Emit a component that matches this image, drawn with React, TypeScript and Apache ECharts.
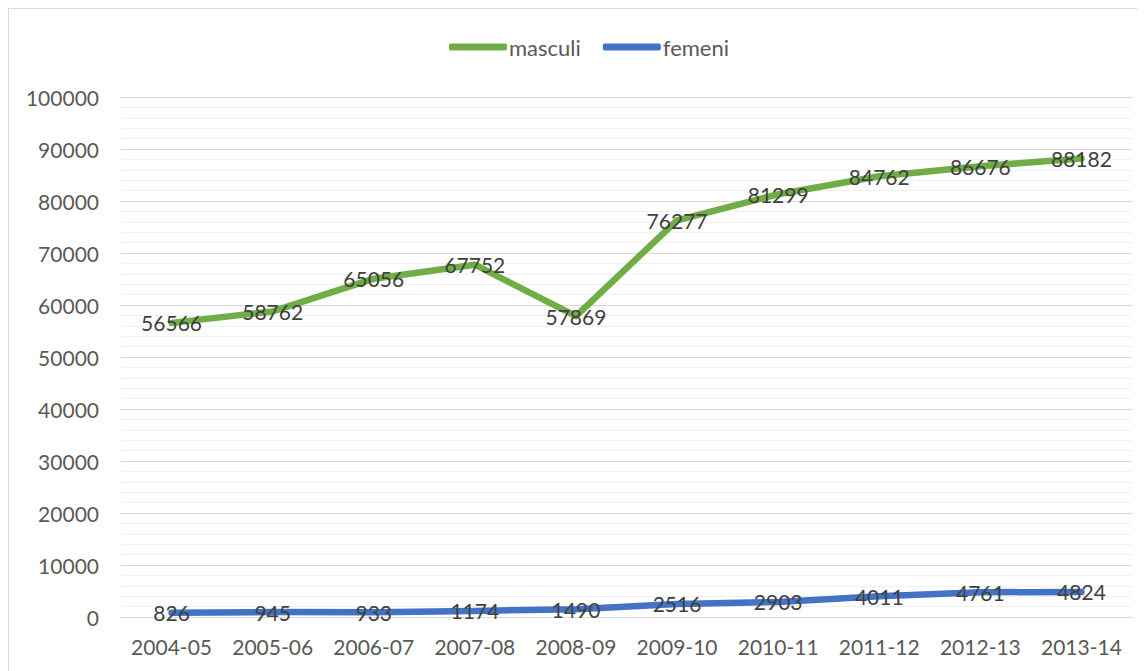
import React, { useEffect, useRef } from "react";
import * as echarts from "echarts";

const categories = ["2004-05", "2005-06", "2006-07", "2007-08", "2008-09", "2009-10", "2010-11", "2011-12", "2012-13", "2013-14"];
const masculi = [56566, 58762, 65056, 67752, 57869, 76277, 81299, 84762, 86676, 88182];
const femeni = [826, 945, 933, 1174, 1490, 2516, 2903, 4011, 4761, 4824];

const FONT = "Lato, 'Noto Sans', sans-serif";

export default function App() {
  const ref = useRef<HTMLDivElement>(null);
  useEffect(() => {
    if (!ref.current) return;
    const chart = echarts.init(ref.current, undefined, { renderer: "svg" });
    const labelStyle = {
      show: true,
      position: "inside" as const,
      color: "#404040",
      fontSize: 21,
      fontFamily: FONT,
    };
    chart.setOption({
      animation: false,
      textStyle: { fontFamily: FONT },
      legend: {
        left: 435,
        top: 22,
        itemWidth: 58,
        itemHeight: 7,
        itemGap: 22,
        icon: "roundRect",
        textStyle: { color: "#595959", fontSize: 22, fontFamily: FONT, padding: [0, 0, 0, -3] },
        data: ["masculi", "femeni"],
      },
      grid: { left: 112, right: 13, top: 88, bottom: 54, containLabel: false },
      xAxis: {
        type: "category",
        data: categories,
        boundaryGap: true,
        axisTick: { show: false },
        axisLine: { lineStyle: { color: "#d9d9d9", width: 1 } },
        axisLabel: { color: "#595959", fontSize: 21, fontFamily: FONT, margin: 19, interval: 0 },
      },
      yAxis: {
        type: "value",
        min: 0,
        max: 100000,
        interval: 10000,
        axisLine: { show: false },
        axisTick: { show: false },
        axisLabel: { color: "#595959", fontSize: 21, fontFamily: FONT, margin: 22, formatter: (v: number) => String(v) },
        splitLine: { lineStyle: { color: "#d9d9d9", width: 1 } },
        minorTick: { show: false, splitNumber: 5 },
        minorSplitLine: { show: true, lineStyle: { color: "#f0f0f0", width: 1 } },
      },
      series: [
        {
          name: "masculi",
          type: "line",
          data: masculi,
          symbol: "circle",
          symbolSize: 0.1,
          showSymbol: true,
          itemStyle: { color: "#70AD47" },
          lineStyle: { color: "#70AD47", width: 6.5, cap: "round", join: "round" },
          label: labelStyle,
        },
        {
          name: "femeni",
          type: "line",
          data: femeni,
          symbol: "circle",
          symbolSize: 0.1,
          showSymbol: true,
          itemStyle: { color: "#4472C4" },
          lineStyle: { color: "#4472C4", width: 6.5, cap: "round", join: "round" },
          label: labelStyle,
        },
      ],
    });
    return () => chart.dispose();
  }, []);
  return (
    <div style={{ borderLeft: "1px solid #d9d9d9", borderTop: "1px solid #d9d9d9", width: 1136, height: 662, overflow: "hidden" }}>
      <div ref={ref} style={{ width: 1136, height: 662 }} />
    </div>
  );
}
